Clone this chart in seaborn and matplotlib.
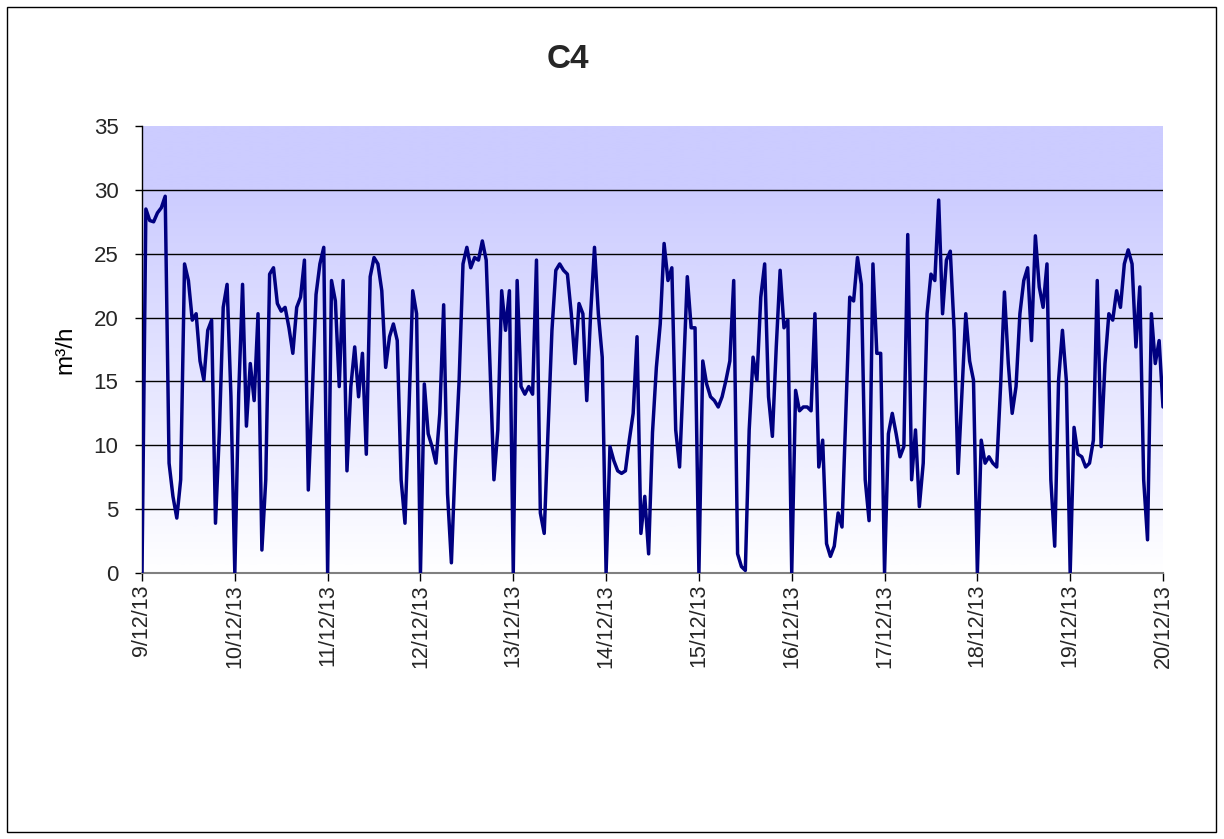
import numpy as np
import pandas as pd
import matplotlib
matplotlib.use("Agg")
import matplotlib.pyplot as plt
from matplotlib.colors import LinearSegmentedColormap
from matplotlib.patches import Rectangle
import seaborn as sns

sns.set_theme(style="white")
plt.rcParams['font.family'] = ['Liberation Sans', 'DejaVu Sans']

# hourly flow values (m3/h), one list per day
day09 = [0, 28.5, 27.6, 27.5, 28.2, 28.6, 29.5, 8.6, 6.0, 4.3, 7.3, 24.2, 22.9, 19.8, 20.3, 16.6, 15.1, 19.0, 19.8, 3.9, 11.0, 20.8, 22.6, 13.8]
day10 = [0, 14.0, 22.6, 11.5, 16.4, 13.5, 20.3, 1.8, 7.3, 23.4, 23.9, 21.1, 20.5, 20.8, 19.2, 17.2, 20.8, 21.6, 24.5, 6.5, 13.8, 21.8, 24.2, 25.5]
day11 = [0, 22.9, 21.3, 14.6, 22.9, 8.0, 14.6, 17.7, 13.8, 17.2, 9.3, 23.2, 24.7, 24.2, 22.1, 16.1, 18.5, 19.5, 18.2, 7.3, 3.9, 12.5, 22.1, 20.3]
day12 = [0, 14.8, 10.9, 9.9, 8.6, 12.5, 21.0, 6.2, 0.8, 8.8, 15.1, 24.2, 25.5, 23.9, 24.7, 24.5, 26.0, 24.5, 16.1, 7.3, 11.2, 22.1, 19.0, 22.1]
day13 = [0, 22.9, 14.6, 14.0, 14.6, 14.0, 24.5, 4.7, 3.1, 11.2, 19.0, 23.7, 24.2, 23.7, 23.4, 20.3, 16.4, 21.1, 20.3, 13.5, 20.3, 25.5, 20.3, 16.9]
day14 = [0, 9.9, 8.8, 8.0, 7.8, 8.0, 10.4, 12.5, 18.5, 3.1, 6.0, 1.5, 11.0, 16.1, 19.5, 25.8, 22.9, 23.9, 11.2, 8.3, 15.6, 23.2, 19.2, 19.2]
day15 = [0, 16.6, 14.8, 13.8, 13.5, 13.0, 13.8, 15.1, 16.6, 22.9, 1.5, 0.5, 0.2, 11.2, 16.9, 15.1, 21.6, 24.2, 13.8, 10.7, 17.7, 23.7, 19.2, 19.8]
day16 = [0, 14.3, 12.7, 13.0, 13.0, 12.7, 20.3, 8.3, 10.4, 2.3, 1.3, 2.1, 4.7, 3.6, 12.5, 21.6, 21.3, 24.7, 22.6, 7.3, 4.1, 24.2, 17.2, 17.2]
day17 = [0, 10.9, 12.5, 10.9, 9.1, 9.9, 26.5, 7.3, 11.2, 5.2, 8.6, 20.3, 23.4, 22.9, 29.2, 20.3, 24.5, 25.2, 19.0, 7.8, 14.0, 20.3, 16.6, 15.1]
day18 = [0, 10.4, 8.6, 9.1, 8.6, 8.3, 14.6, 22.0, 16.4, 12.5, 14.6, 20.3, 22.9, 23.9, 18.2, 26.4, 22.4, 20.8, 24.2, 7.3, 2.1, 15.1, 19.0, 15.1]
day19 = [0, 11.4, 9.3, 9.1, 8.3, 8.6, 10.4, 22.9, 9.9, 16.4, 20.3, 19.8, 22.1, 20.8, 24.2, 25.3, 24.2, 17.7, 22.4, 7.3, 2.6, 20.3, 16.4, 18.2]
last_value = [13.0]

tick_labels = ["9/12/13", "10/12/13", "11/12/13", "12/12/13", "13/12/13", "14/12/13",
               "15/12/13", "16/12/13", "17/12/13", "18/12/13", "19/12/13", "20/12/13"]
y_ticks = [0, 5, 10, 15, 20, 25, 30, 35]

values = (day09 + day10 + day11 + day12 + day13 + day14 + day15 + day16 +
          day17 + day18 + day19 + last_value)
times = pd.date_range("2013-12-09", periods=len(values), freq="h")
df = pd.DataFrame({"time": times, "flow": values})

W, H = 1224, 839
fig = plt.figure(figsize=(W / 100, H / 100), dpi=100)
fig.patch.set_facecolor("white")
ax = fig.add_axes([142 / W, 1 - 573 / H, (1163 - 142) / W, (573 - 126) / H])

# gradient background
cmap = LinearSegmentedColormap.from_list("bg", ["#FFFFFF", "#CCCCFF"])
t = np.linspace(0, 1, 512)
grad = np.clip(t * 35 / 30, 0, 1).reshape(-1, 1)
ax.imshow(grad, extent=(0, 1, 0, 1), transform=ax.transAxes, origin="lower",
          cmap=cmap, vmin=0, vmax=1, aspect="auto", zorder=0, interpolation="bilinear")

for yv in y_ticks[1:-1]:
    ax.axhline(yv, color="black", linewidth=1, zorder=1)

sns.lineplot(data=df, x="time", y="flow", color="#000080", linewidth=2.5, ax=ax, zorder=3)

day_ticks = pd.date_range("2013-12-09", "2013-12-20", freq="D")
ax.set_xlim(times[0], times[-1])
ax.set_ylim(0, 35)
ax.set_xticks(day_ticks)
ax.set_xticklabels(tick_labels, rotation=90, fontsize=15.5)
ax.set_yticks(y_ticks)
ax.set_yticklabels([str(v) for v in y_ticks], fontsize=16)
ax.tick_params(axis="y", direction="out", length=5, width=1, color="black", pad=12, left=True)
ax.tick_params(axis="x", direction="out", length=6, width=1, color="black", pad=2, bottom=True)

ax.set_xlabel("")
ax.set_ylabel("m³/h", fontsize=17.5, color="black")
ax.yaxis.set_label_coords(-0.064, 0.5)

for s in ["top", "right"]:
    ax.spines[s].set_visible(False)
ax.spines["left"].set_color("black")
ax.spines["left"].set_linewidth(1)
ax.spines["bottom"].set_color("#808080")
ax.spines["bottom"].set_linewidth(1.5)

fig.text(568 / W, 1 - 60 / H, "C4", ha="center", va="center", fontsize=24, fontweight="bold")

fig.add_artist(Rectangle((7 / W, 7 / H), (1216 - 7) / W, (832 - 7) / H, transform=fig.transFigure,
                         fill=False, edgecolor="black", linewidth=1))

fig.savefig("out.png", dpi=100)
